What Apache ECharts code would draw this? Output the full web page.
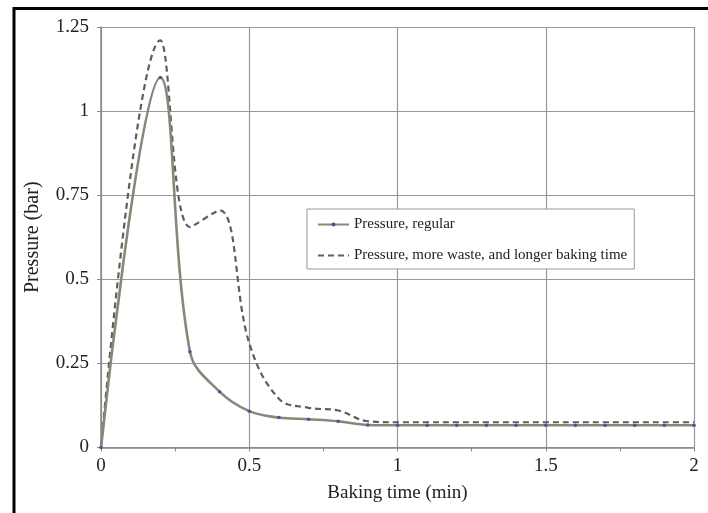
<!DOCTYPE html>
<html><head><meta charset="utf-8">
<script src="https://cdn.jsdelivr.net/npm/echarts@6/dist/echarts.min.js"></script>
<style>html,body{margin:0;padding:0;background:#fff;}#c{width:708px;height:513px;}</style>
</head><body><div id="c"></div>
<script>
const timeRegular = [0, 0.2, 0.3, 0.4, 0.5, 0.6, 0.7, 0.8, 0.9, 1.0, 1.1, 1.2, 1.3, 1.4, 1.5, 1.6, 1.7, 1.8, 1.9, 2.0];
const pressureRegular = [0, 1.1, 0.285, 0.166, 0.108, 0.089, 0.084, 0.078, 0.067, 0.066, 0.066, 0.066, 0.066, 0.066, 0.066, 0.066, 0.066, 0.066, 0.066, 0.066];
const timeWaste = [0, 0.2, 0.3, 0.4, 0.5, 0.6, 0.7, 0.8, 0.9, 1.0, 1.1, 1.2, 1.3, 1.4, 1.5, 1.6, 1.7, 1.8, 1.9, 2.0];
const pressureWaste = [0, 1.21, 0.655, 0.705, 0.31, 0.145, 0.118, 0.11, 0.078, 0.075, 0.075, 0.075, 0.075, 0.075, 0.075, 0.075, 0.075, 0.075, 0.075, 0.075];
const seriesNames = ['Pressure, regular', 'Pressure, more waste, and longer baking time'];
const xTickLabels = ['0', '0.5', '1', '1.5', '2'];
const yTickLabels = ['0', '0.25', '0.5', '0.75', '1', '1.25'];

const font = 'Liberation Serif';
const chart = echarts.init(document.getElementById('c'));
chart.setOption({
  animation: false,
  backgroundColor: '#fff',
  grid: { left: 101, right: 14, top: 27, bottom: 65.5 },
  xAxis: {
    type: 'value', min: 0, max: 2, interval: 0.5,
    name: 'Baking time (min)', nameLocation: 'middle', nameGap: 36,
    nameTextStyle: { fontFamily: font, fontSize: 19, color: '#222' },
    axisLine: { show: true, lineStyle: { color: '#888', width: 1.5 } },
    axisTick: { show: true, length: 4, lineStyle: { color: '#888' } },
    minorTick: { show: true, splitNumber: 2, length: 4, lineStyle: { color: '#888' } },
    axisLabel: { fontFamily: font, fontSize: 19, color: '#222', margin: 9,
      formatter: v => xTickLabels[Math.round(v / 0.5)] },
    splitLine: { show: true, lineStyle: { color: '#999', width: 1.2 } }
  },
  yAxis: {
    type: 'value', min: 0, max: 1.25, interval: 0.25,
    name: 'Pressure (bar)', nameLocation: 'middle', nameGap: 58, nameRotate: 90,
    nameTextStyle: { fontFamily: font, fontSize: 20, color: '#222' },
    axisLine: { show: true, lineStyle: { color: '#888', width: 1.5 } },
    axisTick: { show: true, length: 4, lineStyle: { color: '#888' } },
    axisLabel: { fontFamily: font, fontSize: 19, color: '#222', margin: 12,
      formatter: v => yTickLabels[Math.round(v / 0.25)] },
    splitLine: { show: true, lineStyle: { color: '#999', width: 1.2 } }
  },
  legend: {
    orient: 'vertical', left: 307, top: 209,
    backgroundColor: '#fff', borderColor: '#999', borderWidth: 1,
    padding: [8, 7, 6, 10], itemGap: 16, itemWidth: 31, itemHeight: 5,
    textStyle: { fontFamily: font, fontSize: 15, color: '#222' },
    data: [
      { name: seriesNames[0] },
      { name: seriesNames[1], itemStyle: { opacity: 0 } }
    ]
  },
  series: [
    {
      name: seriesNames[1], type: 'line', smooth: 0.38, z: 2,
      data: timeWaste.map((t, i) => [t, pressureWaste[i]]),
      symbol: 'none',
      lineStyle: { color: '#5e5e5e', width: 2.2, type: [6, 4] },
      itemStyle: { color: '#5e5e5e' }
    },
    {
      name: seriesNames[0], type: 'line', smooth: 0.38, z: 3,
      data: timeRegular.map((t, i) => [t, pressureRegular[i]]),
      symbol: 'circle', symbolSize: 3.5, showSymbol: true,
      lineStyle: { color: '#8a8679', width: 2.6 },
      itemStyle: { color: '#5050a0' }
    }
  ],
  graphic: [
    { type: 'line', shape: { x1: 14, y1: 7, x2: 14, y2: 513 }, style: { stroke: '#000', lineWidth: 3 } },
    { type: 'line', shape: { x1: 14, y1: 8.5, x2: 708, y2: 8.5 }, style: { stroke: '#000', lineWidth: 3 } }
  ]
});
</script></body></html>
